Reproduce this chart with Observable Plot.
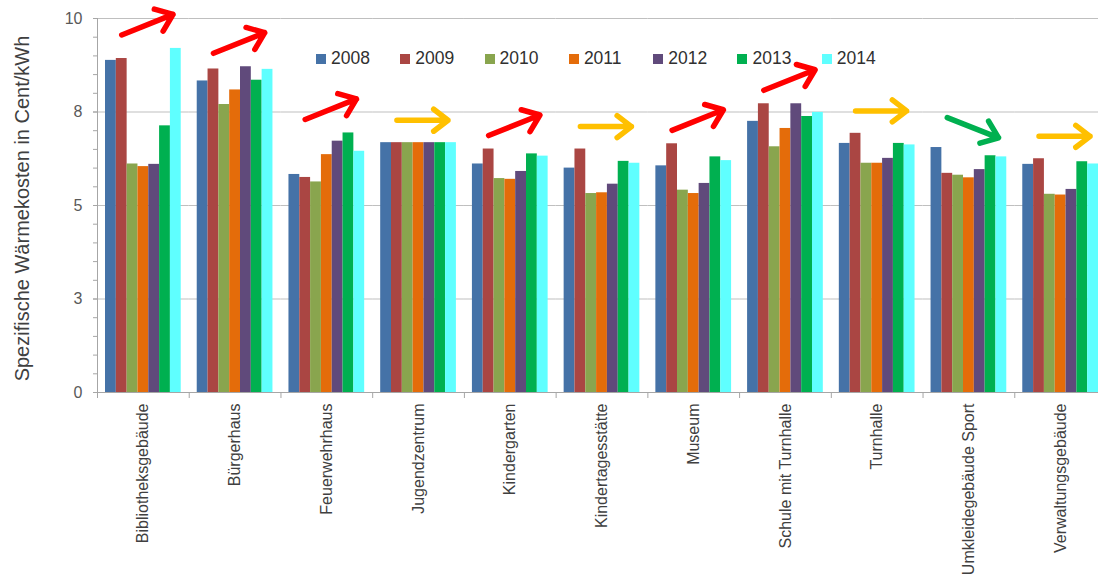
<!DOCTYPE html>
<html>
<head>
<meta charset="utf-8">
<script src="https://cdn.jsdelivr.net/npm/d3@7"></script>
<script src="https://cdn.jsdelivr.net/npm/@observablehq/plot@0.6"></script>
<style>
  html, body { margin: 0; padding: 0; background: #fff; }
  #wrap { position: relative; width: 1098px; height: 576px; overflow: hidden; font-family: "Liberation Sans", Arial, sans-serif; }
  #legend { position: absolute; top: 48px; left: 316px; display: flex; gap: 0; }
  .item { display: flex; align-items: center; width: 84.3px; font-size: 17.5px; color: #303030; }
  .sw { width: 10px; height: 10px; margin-right: 5px; flex: none; }
</style>
</head>
<body>
<div id="wrap"><div id="legend"></div></div>
<script>
const categories = ["Bibliotheksgebäude", "Bürgerhaus", "Feuerwehrhaus", "Jugendzentrum", "Kindergarten",
  "Kindertagesstätte", "Museum", "Schule mit Turnhalle", "Turnhalle", "Umkleidegebäude Sport", "Verwaltungsgebäude"];
const years = ["2008", "2009", "2010", "2011", "2012", "2013", "2014"];
const v2008 = [8.88, 8.33, 5.83, 6.68, 6.11, 6.00, 6.06, 7.25, 6.66, 6.55, 6.10];
const v2009 = [8.93, 8.65, 5.75, 6.68, 6.51, 6.51, 6.65, 7.72, 6.93, 5.86, 6.25];
const v2010 = [6.11, 7.70, 5.63, 6.68, 5.72, 5.32, 5.41, 6.57, 6.13, 5.81, 5.30];
const v2011 = [6.04, 8.09, 6.36, 6.68, 5.70, 5.34, 5.32, 7.06, 6.13, 5.74, 5.28];
const v2012 = [6.10, 8.71, 6.72, 6.68, 5.91, 5.57, 5.59, 7.72, 6.26, 5.96, 5.43];
const v2013 = [7.13, 8.35, 6.94, 6.68, 6.38, 6.18, 6.30, 7.38, 6.66, 6.33, 6.17];
const v2014 = [9.20, 8.64, 6.45, 6.68, 6.32, 6.13, 6.20, 7.49, 6.62, 6.30, 6.11];
const series = [v2008, v2009, v2010, v2011, v2012, v2013, v2014];
const trends = ["up", "up", "up", "flat", "up", "flat", "up", "up", "flat", "down", "flat"];
const yTicks = [0, 2.5, 5, 7.5, 10];
const yTickLabels = ["0", "3", "5", "8", "10"];
const yMinorTicks = d3.range(0, 10.001, 0.5);
const colors = ["#4572A7", "#AA4643", "#89A54E", "#E46C0A", "#604A7B", "#00B050", "#5FFFFF"];
const trendColors = {up: "#FF0000", flat: "#FFC000", down: "#00B050"};
const yTitle = "Spezifische Wärmekosten in Cent/kWh";

const data = [];
categories.forEach((c, i) => years.forEach((y, j) => data.push({category: c, year: y, value: series[j][i]})));
const arrows = categories.map((c, i) => {
  const max = d3.max(series, s => s[i]);
  const t = trends[i];
  let y1, y2;
  if (t === "up") { y1 = max + 0.36; y2 = y1 + 0.58; }
  else if (t === "flat") { y1 = max + 0.6; y2 = y1; }
  else { y1 = max + 0.8; y2 = max + 0.23; }
  return {category: c, trend: t, y1, y2};
});

const arrowMarks = Object.keys(trendColors).map(t =>
  Plot.arrow(arrows.filter(d => d.trend === t), {
    fx: "category", x1: () => years[1], x2: () => years[6], y1: "y1", y2: "y2",
    stroke: trendColors[t], strokeWidth: 5.5, headLength: 17, headAngle: 75, insetEnd: 3, bend: 0
  })
);

const chart = Plot.plot({
  width: 1098, height: 576,
  marginTop: 18, marginBottom: 184, marginLeft: 97, marginRight: -8,
  style: {fontFamily: "'Liberation Sans', Arial, sans-serif", background: "transparent", overflow: "visible"},
  fx: {domain: categories, padding: 0, round: false, label: null},
  x: {domain: years, paddingInner: 0, paddingOuter: 0.74, round: false, axis: null},
  y: {domain: [0, 10], label: null},
  color: {domain: years, range: colors},
  marks: [
    Plot.gridY(yTicks, {stroke: "#BFBFBF", strokeOpacity: 1}),
    Plot.barY(data, {fx: "category", x: "year", y: "value", fill: "year"}),
    Plot.frame({anchor: "bottom", stroke: "#A6A6A6"}),
    Plot.frame({anchor: "left", stroke: "#A6A6A6", insetTop: 374, insetBottom: -5}),
    Plot.frame({anchor: "left", stroke: "#A6A6A6", facetAnchor: "left"}),
    Plot.axisY(yMinorTicks, {tickSize: 4, tickFormat: () => "", stroke: "#A6A6A6", label: null}),
    Plot.axisY(yTicks, {tickSize: 4, tickPadding: 11, tickFormat: d => yTickLabels[yTicks.indexOf(d)],
      fontSize: 16, fill: "#595959", stroke: "#A6A6A6", label: null}),
    Plot.axisFx({anchor: "bottom", tickSize: 0, tickPadding: 11, tickRotate: -90, fontSize: 16, fill: "#404040", label: null}),
    Plot.text([yTitle], {frameAnchor: "left", textAnchor: "middle", rotate: -90, dx: -75, dy: 3, fontSize: 20, fill: "#404040", facetAnchor: "left"}),
    ...arrowMarks
  ]
});
const wrap = document.getElementById("wrap");
wrap.insertBefore(chart, wrap.firstChild);

const legend = document.getElementById("legend");
years.forEach((y, i) => {
  const it = document.createElement("div");
  it.className = "item";
  it.innerHTML = `<span class="sw" style="background:${colors[i]}"></span><span>${y}</span>`;
  legend.appendChild(it);
});
</script>
</body>
</html>
